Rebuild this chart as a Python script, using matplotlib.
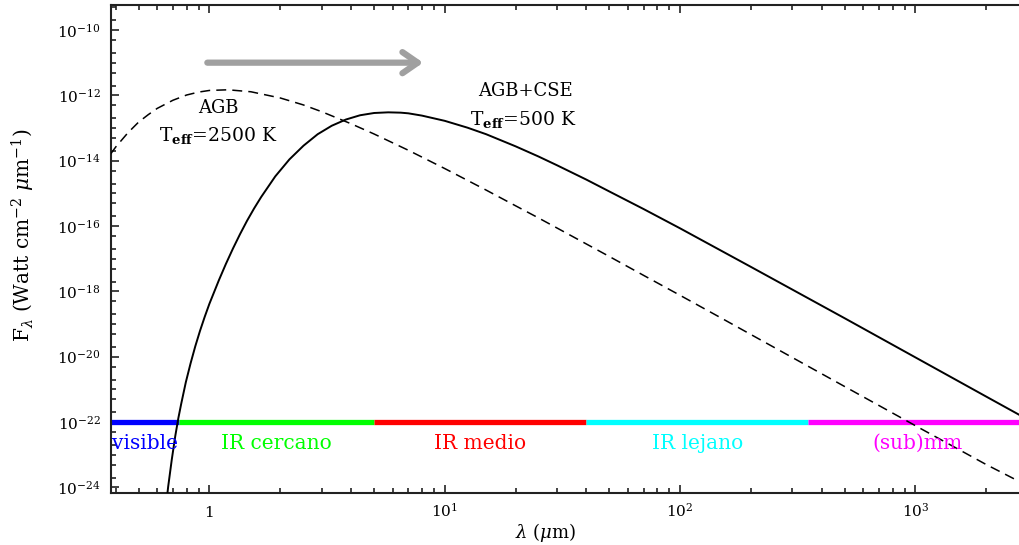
import matplotlib
matplotlib.use('Agg')
import matplotlib.pyplot as plt
from matplotlib.ticker import FixedLocator, LogLocator, FuncFormatter, NullFormatter
import numpy as np

plt.rcParams['font.family'] = ['DejaVu Serif', 'DejaVu Sans']
plt.rcParams['mathtext.fontset'] = 'dejavuserif'

# valores: lambda (micras) y log10 F_lambda
wl_agb = [0.38, 0.40, 0.45, 0.50, 0.55, 0.60, 0.70, 0.80, 0.90, 1.0, 1.2, 1.5, 2.0, 2.5,
          3.0, 4.0, 5.0, 7.0, 10, 15, 20, 25, 30, 50, 70, 100, 150, 200, 500, 1000,
          2000, 3000]
logf_agb = [-13.80, -13.58, -13.15, -12.82, -12.59, -12.40, -12.15, -11.99, -11.90, -11.85,
            -11.83, -11.89, -12.08, -12.29, -12.50, -12.87, -13.18, -13.68, -14.24, -14.90,
            -15.38, -15.75, -16.06, -16.93, -17.51, -18.12, -18.82, -19.32, -20.91, -22.11,
            -23.30, -23.95]

wl_cse = [0.646, 0.668, 0.692, 0.716, 0.738, 0.759, 0.794, 0.832, 0.871, 0.912, 0.955,
          1.0, 1.097, 1.175, 1.259, 1.349, 1.445, 1.549, 1.66, 1.905, 2.188, 2.512, 2.884,
          3.311, 3.802, 4.365, 5.012, 5.754, 6.5, 7.0, 8.0, 10, 12.5, 15, 20, 25, 30, 40,
          50, 70, 100, 200, 500, 1000, 2000, 3000]
logf_cse = [-24.91, -23.98, -23.15, -22.43, -21.88, -21.44, -20.78, -20.20, -19.68, -19.21,
            -18.78, -18.38, -17.66, -17.16, -16.69, -16.25, -15.84, -15.46, -15.11, -14.48,
            -13.96, -13.54, -13.19, -12.93, -12.74, -12.61, -12.54, -12.52, -12.53, -12.55,
            -12.62, -12.78, -12.99, -13.19, -13.56, -13.87, -14.14, -14.58, -14.94, -15.48,
            -16.07, -17.25, -18.82, -20.02, -21.22, -21.92]

band_names = ['visible', 'IR cercano', 'IR medio', 'IR lejano', '(sub)mm']
band_edges = [0.38, 0.74, 5.0, 40.0, 350.0, 3000.0]
band_colors = ['#0000ff', '#00ff00', '#ff0000', '#00ffff', '#ff00ff']
band_level = 1e-22

W, H = 1019, 545
fig = plt.figure(figsize=(W / 100, H / 100), dpi=100)
# el eje derecho queda justo fuera de la imagen, como en el original
ax = fig.add_axes([110.5 / W, 52 / H, 917.2 / W, 488 / H])
ax.set_xscale('log')
ax.set_yscale('log')
ax.set_xlim(0.38, 3000)
ax.set_ylim(10 ** -24.17, 10 ** -9.235)

# bandas espectrales
for lo, hi, c, name in zip(band_edges[:-1], band_edges[1:], band_colors, band_names):
    ax.plot([lo, hi], [band_level, band_level], color=c, lw=3.8, solid_capstyle='butt', zorder=2)
    ax.text(np.sqrt(lo * hi), 10 ** -22.64, name, color=c, fontsize=14.5,
            ha='center', va='center', zorder=4)

ax.plot(wl_agb, 10 ** np.array(logf_agb), color='k', lw=1.1, ls=(0, (6.5, 4)), zorder=3)
ax.plot(wl_cse, 10 ** np.array(logf_cse), color='k', lw=1.4, zorder=3)

# flecha gris
ax.annotate('', xy=(8.1, 1e-11), xytext=(0.98, 1e-11),
            arrowprops=dict(arrowstyle='->,head_length=0.55,head_width=0.38', lw=4.5,
                            color='#a0a0a0', shrinkA=0, shrinkB=0, mutation_scale=20,
                            capstyle='round', joinstyle='round'))

def px(x, y):
    return x / W, 1 - y / H

fig.text(*px(218, 108), 'AGB', fontsize=13, ha='center', va='center')
fig.text(*px(218, 136), r'T$_{\mathbf{eff}}$=2500 K', fontsize=13.5, ha='center', va='center')
fig.text(*px(525, 91), 'AGB+CSE', fontsize=13, ha='center', va='center')
fig.text(*px(523, 119), r'T$_{\mathbf{eff}}$=500 K', fontsize=13.5, ha='center', va='center')

fig.text(*px(23, 235), r'F$_\lambda$ (Watt cm$^{-2}$ $\mu$m$^{-1}$)', fontsize=14.5,
         rotation=90, ha='center', va='center')
fig.text(*px(546, 532), r'$\lambda$ ($\mu$m)', fontsize=13, ha='center', va='center')

# ejes y marcas
for s in ax.spines.values():
    s.set_linewidth(1.5)
    s.set_color('#222222')

ax.xaxis.set_major_locator(LogLocator(base=10, numticks=20))
ax.xaxis.set_minor_locator(LogLocator(base=10, subs=np.arange(2, 10), numticks=20))
ax.xaxis.set_minor_formatter(NullFormatter())
ax.xaxis.set_major_formatter(FuncFormatter(
    lambda v, p: '1' if abs(v - 1) < 1e-9 else r'$10^{%d}$' % round(np.log10(v))))

ax.yaxis.set_major_locator(FixedLocator([10.0 ** e for e in range(-24, -9, 2)]))
ax.yaxis.set_minor_locator(LogLocator(base=100, subs=[2, 5, 10, 20, 50], numticks=50))
ax.yaxis.set_minor_formatter(NullFormatter())
ax.yaxis.set_major_formatter(FuncFormatter(lambda v, p: r'$10^{%d}$' % round(np.log10(v))))

ax.tick_params(which='both', direction='in', top=True, right=True, color='#222222', width=1.2)
ax.tick_params(which='major', length=6)
ax.tick_params(which='minor', length=3.3)
ax.tick_params(axis='y', labelsize=11, pad=7)
ax.tick_params(axis='x', labelsize=11, pad=17)
for lab in ax.get_xticklabels():
    lab.set_verticalalignment('baseline')

fig.savefig('out.png', dpi=100, facecolor='white')
